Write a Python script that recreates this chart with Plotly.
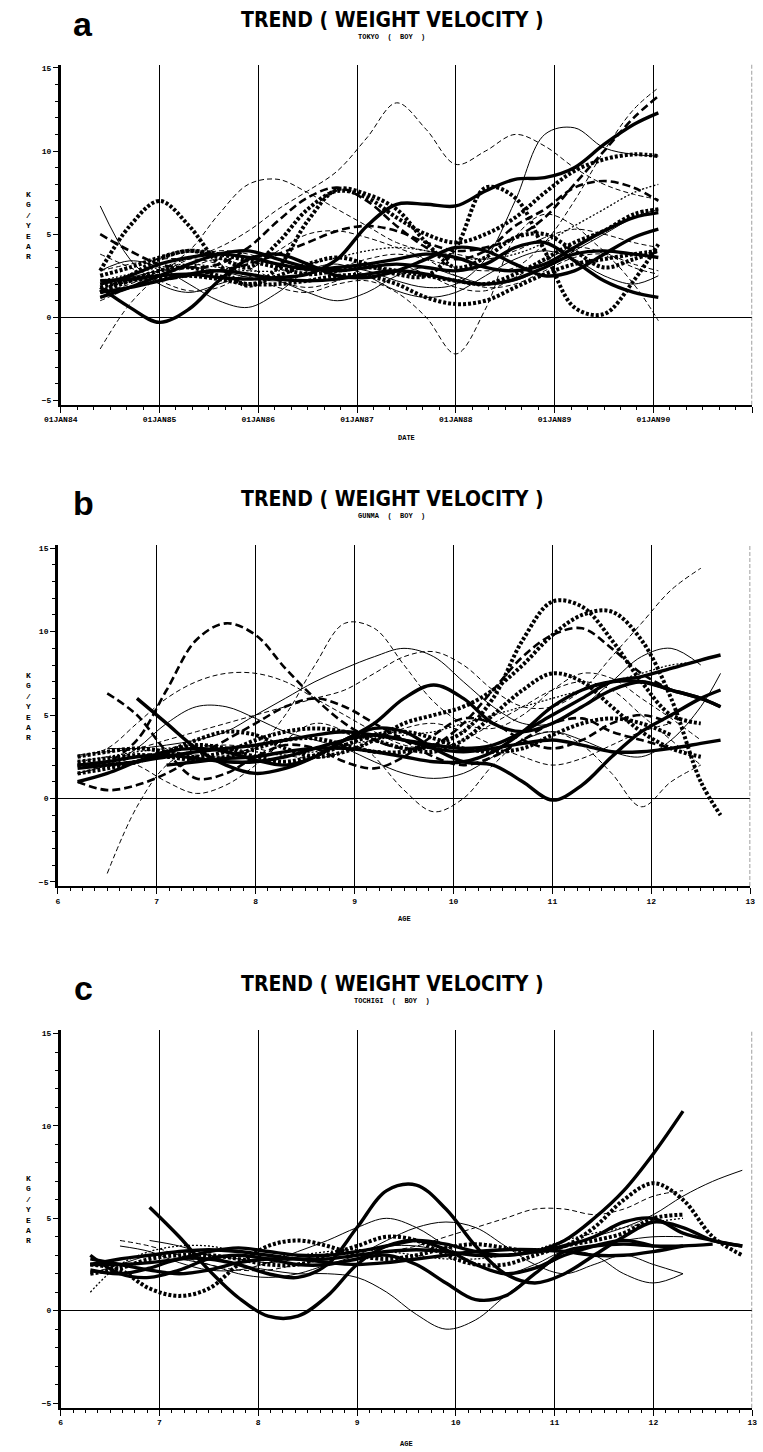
import plotly.graph_objects as go

# ---------------- DATA ----------------
# Panel a : TOKYO (BOY), x = calendar date (decimal year)
TOKYO_T = [1984.4, 1984.7, 1985.0, 1985.3, 1985.6, 1985.9, 1986.2, 1986.5, 1986.8, 1987.1,
           1987.4, 1987.7, 1988.0, 1988.3, 1988.6, 1988.9, 1989.2, 1989.5, 1989.8, 1990.05]
TOKYO_01 = [2.8, 3.2, 3.5, 3.6, 4.2, 5.2, 6.5, 7.6, 8.8, 10.8, 12.9, 11.3, 9.2, 10.0, 11.0, 10.3, 9.0, 8.0, 7.4, 7.1]
TOKYO_02 = [1.5, 2.0, 2.8, 4.0, 6.2, 8.0, 8.3, 7.5, 6.5, 5.5, 4.5, 4.0, 3.8, 3.5, 4.0, 4.8, 5.3, 5.0, 4.5, 4.2]
TOKYO_03 = [2.8, 5.5, 7.0, 5.5, 3.2, 1.9, 3.0, 5.8, 7.7, 7.4, 6.5, 4.5, 3.0, 3.6, 4.8, 5.0, 4.0, 3.0, 3.5, 4.0]
TOKYO_04 = [1.5, 2.2, 2.8, 3.0, 2.5, 2.0, 2.5, 3.2, 3.6, 3.2, 2.6, 2.5, 4.2, 7.8, 7.2, 4.0, 0.6, 0.2, 2.2, 4.4]
TOKYO_05 = [2.2, 2.3, 2.5, 2.6, 2.4, 2.3, 2.4, 2.6, 3.5, 5.5, 6.8, 6.8, 6.7, 7.6, 8.3, 8.4, 9.0, 10.4, 11.6, 12.3]
TOKYO_06 = [1.2, 1.8, 2.5, 3.2, 3.8, 4.0, 3.5, 3.0, 2.8, 3.0, 3.2, 3.0, 2.8, 3.2, 4.2, 4.5, 3.4, 2.2, 1.5, 1.2]
TOKYO_07 = [1.8, 0.6, -0.3, 0.5, 2.2, 3.5, 3.8, 3.2, 2.5, 2.4, 2.8, 3.5, 4.2, 4.0, 3.2, 2.5, 2.8, 3.8, 4.8, 5.3]
TOKYO_08 = [2.0, 2.4, 2.8, 3.0, 2.8, 2.4, 2.2, 2.6, 3.0, 2.8, 2.2, 1.8, 2.0, 3.5, 7.0, 11.0, 11.4, 10.2, 9.8, 9.7]
TOKYO_09 = [1.0, 1.8, 2.8, 3.5, 3.2, 2.5, 1.8, 1.5, 2.0, 2.2, 1.5, 0.0, -2.2, 0.5, 4.8, 6.2, 5.5, 4.0, 3.0, 2.6]
TOKYO_10 = [6.7, 3.5, 2.0, 1.5, 2.0, 2.5, 2.2, 1.5, 1.0, 1.5, 2.5, 3.0, 2.5, 2.0, 2.2, 3.0, 4.0, 5.0, 6.0, 6.5]
TOKYO_11 = [-1.9, 0.8, 2.5, 3.5, 4.0, 3.8, 3.2, 2.8, 3.0, 3.5, 3.8, 3.5, 3.0, 2.8, 3.0, 4.5, 7.0, 10.0, 12.5, 13.8]
TOKYO_12 = [1.5, 2.5, 3.5, 4.0, 3.6, 3.0, 4.5, 6.5, 7.6, 7.2, 6.0, 5.0, 4.5, 5.0, 6.0, 7.5, 8.8, 9.5, 9.8, 9.7]
TOKYO_13 = [5.0, 4.0, 3.2, 3.0, 3.2, 4.2, 5.8, 7.2, 7.8, 7.0, 5.5, 4.2, 3.5, 4.0, 5.5, 6.5, 7.8, 8.2, 7.8, 7.0]
TOKYO_14 = [2.0, 2.4, 2.6, 3.0, 3.5, 3.0, 2.2, 1.8, 2.2, 3.0, 3.2, 2.6, 1.8, 1.6, 2.4, 3.4, 4.2, 3.8, 2.0, -0.2]
TOKYO_15 = [2.5, 3.0, 3.6, 4.0, 3.8, 3.4, 3.0, 2.6, 2.8, 3.0, 2.8, 2.5, 2.2, 2.0, 2.6, 3.5, 4.5, 5.2, 6.2, 6.5]
TOKYO_16 = [2.0, 2.5, 3.2, 3.6, 3.8, 3.6, 3.2, 2.9, 3.0, 3.2, 3.5, 3.8, 3.6, 3.0, 2.8, 3.2, 4.2, 5.2, 6.0, 6.3]
TOKYO_17 = [2.8, 3.4, 3.0, 2.0, 1.0, 0.6, 1.5, 2.8, 3.2, 2.5, 1.6, 1.2, 1.5, 2.5, 3.5, 4.0, 3.5, 2.5, 2.0, 2.5]
TOKYO_18 = [3.8, 3.0, 2.2, 1.6, 1.8, 2.8, 4.0, 5.0, 5.2, 4.8, 4.2, 3.5, 2.5, 1.8, 2.0, 2.8, 3.6, 3.8, 3.2, 2.8]
TOKYO_19 = [1.2, 1.8, 2.2, 2.5, 2.8, 3.2, 3.8, 4.5, 5.2, 5.5, 5.2, 4.5, 4.0, 4.2, 4.8, 6.0, 8.0, 10.0, 12.0, 13.3]
TOKYO_20 = [1.8, 2.2, 2.4, 2.5, 2.3, 2.0, 2.0, 2.2, 2.5, 2.5, 2.0, 1.2, 0.8, 1.0, 1.8, 2.6, 3.2, 3.5, 3.8, 4.0]
TOKYO_21 = [2.2, 2.6, 3.0, 3.2, 3.0, 2.8, 2.8, 3.2, 3.6, 4.0, 4.2, 4.0, 3.6, 3.5, 3.8, 4.5, 5.5, 6.5, 7.5, 8.0]
TOKYO_22 = [1.5, 1.8, 2.2, 2.6, 2.8, 2.6, 2.3, 2.2, 2.3, 2.6, 2.8, 2.6, 2.2, 2.0, 2.3, 3.0, 3.8, 4.0, 3.8, 3.6]

# Panel b : GUNMA (BOY), x = age
GUNMA_AGE = [6.2, 6.5, 6.8, 7.1, 7.4, 7.7, 8.0, 8.3, 8.6, 8.9, 9.2, 9.5,
             9.8, 10.1, 10.4, 10.7, 11.0, 11.3, 11.6, 11.9, 12.2, 12.5, 12.7]
GUNMA_01 = [None, 6.3, 5.0, 2.8, 1.2, 1.5, 2.5, 3.2, 3.0, 2.2, 1.8, 2.5, 3.8, 4.8, 4.5, 3.5, 3.0, 3.5, 4.5, 5.0, 4.5, None, None]
GUNMA_02 = [2.0, 2.2, 3.5, 6.5, 9.5, 10.5, 9.8, 7.8, 6.0, 4.5, 3.5, 3.0, 3.2, 4.5, 6.5, 8.5, 9.8, 10.2, 9.0, 7.5, 6.5, None, None]
GUNMA_03 = [None, -4.5, -0.5, 2.0, 3.0, 3.2, 3.0, 2.6, 2.4, 2.8, 3.5, 4.2, 4.5, 4.0, 3.2, 2.5, 2.0, 2.4, 3.2, 4.0, 4.5, None, None]
GUNMA_04 = [1.5, 2.0, 2.5, 2.8, 2.6, 2.5, 3.0, 5.0, 8.0, 10.5, 10.2, 8.0, 5.8, 4.5, 4.2, 5.0, 6.5, 7.5, 7.2, 6.0, 4.8, 3.5, None]
GUNMA_05 = [2.2, 2.4, 2.6, 2.5, 2.3, 2.5, 3.0, 3.5, 3.6, 3.2, 2.8, 2.8, 3.2, 4.0, 6.0, 9.5, 11.8, 11.5, 9.5, 7.0, 5.0, 4.5, None]
GUNMA_06 = [1.5, 1.8, 2.2, 2.8, 3.5, 4.0, 3.8, 3.0, 2.5, 2.8, 3.5, 4.5, 5.0, 5.5, 6.5, 8.0, 9.8, 11.0, 11.2, 9.5, 6.0, 1.0, -1.0]
GUNMA_07 = [2.6, 2.8, 3.0, 3.5, 4.0, 4.5, 5.0, 5.5, 6.0, 6.5, 7.5, 8.5, 8.8, 8.0, 6.5, 5.5, 5.5, 6.5, 8.5, 10.5, 12.5, 13.8, None]
GUNMA_08 = [None, None, 6.0, 4.5, 3.0, 2.0, 1.5, 1.8, 2.5, 3.5, 4.2, 4.0, 3.0, 2.2, 2.0, 1.0, -0.1, 0.8, 2.5, 4.0, 5.0, 6.0, 6.5]
GUNMA_09 = [1.8, 2.0, 2.2, 2.5, 2.8, 3.0, 3.2, 3.5, 3.8, 4.0, 3.8, 3.5, 3.2, 3.0, 3.2, 4.0, 5.0, 6.0, 7.0, 7.3, 7.8, 8.3, 8.6]
GUNMA_10 = [2.0, 2.2, 2.5, 2.6, 2.4, 2.2, 2.2, 2.5, 3.0, 3.5, 3.8, 3.5, 3.0, 2.8, 3.0, 3.3, 3.5, 3.2, 2.8, 2.8, 3.0, 3.3, 3.5]
GUNMA_11 = [1.0, 1.5, 2.2, 2.8, 3.0, 2.8, 2.3, 2.0, 2.5, 3.5, 4.5, 6.0, 6.8, 6.0, 4.5, 4.0, 4.5, 5.5, 6.5, 7.0, 6.5, 6.0, 5.5]
GUNMA_12 = [1.5, 2.0, 3.0, 4.5, 5.5, 5.5, 4.8, 4.0, 3.5, 3.0, 2.2, 1.5, 1.2, 1.5, 2.5, 3.5, 4.0, 3.5, 2.8, 2.5, 3.5, 5.5, 7.5]
GUNMA_13 = [2.5, 3.0, 4.5, 6.0, 7.0, 7.5, 7.5, 7.0, 6.0, 5.0, 4.0, 3.2, 3.0, 3.5, 4.5, 5.5, 6.5, 7.0, 6.5, 5.0, 3.5, 2.0, None]
GUNMA_14 = [2.0, 2.0, 2.2, 2.8, 3.2, 3.0, 2.5, 2.2, 2.6, 3.2, 3.8, 4.0, 3.6, 3.0, 2.8, 3.0, 3.8, 4.5, 4.8, 4.5, 3.8, None, None]
GUNMA_15 = [1.0, 0.5, 0.8, 1.5, 2.5, 3.5, 4.5, 5.5, 6.0, 5.5, 4.5, 3.5, 2.5, 2.0, 2.5, 3.5, 4.5, 4.8, 4.0, 3.5, 3.0, None, None]
GUNMA_16 = [None, 2.5, 2.0, 1.0, 0.3, 0.8, 2.0, 3.5, 4.5, 4.0, 2.5, 0.5, -0.8, 0.0, 2.0, 3.5, 4.0, 3.2, 1.5, -0.5, 1.0, 2.0, None]
GUNMA_17 = [2.5, 2.8, 3.0, 2.8, 2.5, 2.8, 3.5, 4.0, 4.2, 4.0, 3.5, 3.0, 2.8, 3.5, 5.0, 6.5, 7.5, 7.0, 5.5, 4.0, 3.0, 2.5, None]
GUNMA_18 = [None, 3.0, 3.0, 3.2, 3.5, 4.0, 5.0, 6.0, 7.0, 7.8, 8.5, 9.0, 8.5, 7.0, 5.5, 4.5, 4.5, 5.5, 7.0, 8.5, 9.0, 8.0, None]
GUNMA_19 = [2.2, 2.5, 2.8, 3.0, 3.2, 3.0, 2.8, 2.6, 2.8, 3.2, 3.5, 3.8, 4.0, 4.5, 5.0, 5.5, 6.0, 6.5, 7.0, 7.5, 8.0, 8.2, None]
GUNMA_20 = [None, None, None, 2.0, 2.2, 2.4, 2.5, 2.8, 3.0, 3.0, 2.8, 2.5, 2.2, 2.2, 2.8, 4.0, 5.5, 6.5, 7.0, 7.0, 6.5, 6.0, 5.5]

# Panel c : TOCHIGI (BOY), x = age
TOCHIGI_AGE = [6.3, 6.6, 6.9, 7.2, 7.5, 7.8, 8.1, 8.4, 8.7, 9.0, 9.3, 9.6,
               9.9, 10.2, 10.5, 10.8, 11.1, 11.4, 11.7, 12.0, 12.3, 12.6, 12.9]
TOCHIGI_01 = [2.5, 2.8, 3.0, 3.2, 3.3, 3.2, 3.0, 2.8, 2.8, 3.0, 3.2, 3.3, 3.2, 3.0, 3.0, 3.2, 3.8, 5.0, 6.5, 8.5, 10.8, None, None]
TOCHIGI_02 = [None, None, 5.6, 4.0, 2.2, 0.7, -0.3, -0.3, 0.8, 2.5, 3.5, 3.8, 3.3, 2.5, 2.0, 2.3, 3.0, 3.5, 3.8, 3.5, None, None, None]
TOCHIGI_03 = [2.2, 2.0, 2.3, 2.8, 2.8, 2.5, 2.0, 1.8, 2.5, 4.5, 6.5, 6.8, 5.5, 3.5, 2.0, 1.5, 2.0, 3.0, 4.0, 4.8, 4.5, 3.8, 3.5]
TOCHIGI_04 = [2.0, 2.5, 3.0, 3.2, 3.0, 2.8, 2.6, 2.8, 3.0, 3.2, 3.5, 3.5, 3.2, 3.0, 3.0, 3.2, 3.5, 4.0, 4.5, 5.2, 6.2, 7.0, 7.6]
TOCHIGI_05 = [2.5, 2.2, 1.2, 0.8, 1.2, 2.5, 3.5, 3.8, 3.5, 3.0, 2.8, 3.0, 3.4, 3.6, 3.4, 3.2, 3.5, 4.5, 6.0, 6.9, 6.0, 4.0, 3.0]
TOCHIGI_06 = [None, None, 3.8, 3.5, 3.0, 2.5, 2.2, 2.0, 2.0, 1.8, 1.0, -0.2, -1.0, -0.5, 0.8, 2.0, 3.0, 3.5, 3.8, 4.0, 4.0, None, None]
TOCHIGI_07 = [1.0, 2.5, 3.2, 3.5, 3.5, 3.2, 3.0, 3.0, 3.2, 3.3, 3.2, 3.0, 2.8, 2.8, 3.0, 3.3, 3.8, 4.2, 4.5, 4.8, 5.0, None, None]
TOCHIGI_08 = [3.0, 2.0, 1.8, 2.2, 2.8, 3.0, 2.8, 2.5, 2.5, 2.8, 3.0, 2.5, 1.5, 0.6, 0.8, 2.0, 3.2, 3.5, 3.6, 3.5, 3.5, 3.6, None]
TOCHIGI_09 = [2.5, 2.5, 2.6, 2.8, 3.2, 3.4, 3.2, 3.0, 3.0, 3.2, 3.5, 3.8, 3.6, 3.2, 3.0, 3.2, 3.5, 4.0, 4.8, 5.0, 4.2, 3.8, 3.5]
TOCHIGI_10 = [None, 3.5, 3.2, 2.6, 2.2, 2.2, 2.6, 3.2, 3.8, 4.5, 5.0, 4.5, 3.5, 2.5, 2.0, 2.5, 3.2, 3.0, 2.0, 1.5, 2.0, None, None]
TOCHIGI_11 = [None, 3.8, 3.5, 3.0, 2.5, 2.2, 2.2, 2.5, 2.8, 3.0, 3.2, 3.5, 4.0, 4.5, 5.0, 5.5, 5.5, 5.2, 5.5, 6.2, 6.5, None, None]
TOCHIGI_12 = [2.0, 2.3, 2.8, 3.0, 3.0, 2.8, 2.5, 2.5, 3.0, 3.5, 4.0, 3.8, 3.0, 2.5, 2.5, 3.0, 3.5, 3.8, 4.2, 5.0, 5.2, None, None]
TOCHIGI_13 = [None, None, None, 2.8, 2.5, 2.0, 1.8, 2.0, 2.5, 3.0, 3.8, 4.5, 4.8, 4.5, 3.5, 2.5, 2.0, 2.5, 3.0, 2.5, 2.0, None, None]
TOCHIGI_14 = [2.8, 2.5, 2.2, 2.0, 2.2, 2.6, 2.8, 2.8, 2.6, 2.5, 2.6, 2.8, 3.0, 3.2, 3.3, 3.3, 3.2, 3.0, 3.0, 3.2, 3.5, None, None]

DATE_TICKS = [1984, 1985, 1986, 1987, 1988, 1989, 1990, 1991]
DATE_LABELS = ["01JAN84", "01JAN85", "01JAN86", "01JAN87", "01JAN88", "01JAN89", "01JAN90", "01JAN91"]
AGE_TICKS = [6, 7, 8, 9, 10, 11, 12, 13]
AGE_LABELS = ["6", "7", "8", "9", "10", "11", "12", "13"]
Y_TICKS = [-5, 0, 5, 10, 15]

# ---------------- STYLES ----------------
STYLE = {
    "thick": dict(width=3.4, dash="solid"),
    "thin": dict(width=1.0, dash="solid"),
    "dash": dict(width=1.0, dash="5px,3px"),
    "dashthick": dict(width=2.6, dash="8px,4px"),
    "dot": dict(width=4.0, dash="3px,2px"),
    "finedot": dict(width=1.3, dash="2px,2px"),
}
TOKYO_STYLES = ["dash", "dash", "dot", "dot", "thick", "thick", "thick", "thin", "dash", "thin", "dash",
                "dot", "dashthick", "dash", "dot", "thick", "thin", "dash", "dashthick", "dot", "finedot", "thick"]
GUNMA_STYLES = ["dashthick", "dashthick", "dash", "dash", "dot", "dot", "dash", "thick", "thick", "thick",
                "thick", "thin", "dash", "dot", "dashthick", "dash", "dot", "thin", "finedot", "thick"]
TOCHIGI_STYLES = ["thick", "thick", "thick", "thin", "dot", "thin", "finedot", "thick", "thick", "thin",
                  "dash", "dot", "thin", "thick"]

TOKYO = [TOKYO_01, TOKYO_02, TOKYO_03, TOKYO_04, TOKYO_05, TOKYO_06, TOKYO_07, TOKYO_08, TOKYO_09, TOKYO_10, TOKYO_11,
         TOKYO_12, TOKYO_13, TOKYO_14, TOKYO_15, TOKYO_16, TOKYO_17, TOKYO_18, TOKYO_19, TOKYO_20, TOKYO_21, TOKYO_22]
GUNMA = [GUNMA_01, GUNMA_02, GUNMA_03, GUNMA_04, GUNMA_05, GUNMA_06, GUNMA_07, GUNMA_08, GUNMA_09, GUNMA_10,
         GUNMA_11, GUNMA_12, GUNMA_13, GUNMA_14, GUNMA_15, GUNMA_16, GUNMA_17, GUNMA_18, GUNMA_19, GUNMA_20]
TOCHIGI = [TOCHIGI_01, TOCHIGI_02, TOCHIGI_03, TOCHIGI_04, TOCHIGI_05, TOCHIGI_06, TOCHIGI_07, TOCHIGI_08,
           TOCHIGI_09, TOCHIGI_10, TOCHIGI_11, TOCHIGI_12, TOCHIGI_13, TOCHIGI_14]

# ---------------- LAYOUT (pixels) ----------------
W, H = 763, 1452
PANELS = [
    dict(letter="a", sub="TOKYO  (  BOY  )", xt="DATE", x=TOKYO_T, series=TOKYO, styles=TOKYO_STYLES,
         px0=45, px1=757, xr=[1984, 1991], ticks=DATE_TICKS, labels=DATE_LABELS, minor=1 / 6,
         top=63.7, bot=404.2, title_y=19, xt_off=33),
    dict(letter="b", sub="GUNMA  (  BOY  )", xt="AGE", x=GUNMA_AGE, series=GUNMA, styles=GUNMA_STYLES,
         px0=42, px1=755, xr=[6, 13], ticks=AGE_TICKS, labels=AGE_LABELS, minor=0.125,
         top=544.7, bot=886.2, title_y=499, xt_off=33),
    dict(letter="c", sub="TOCHIGI  (  BOY  )", xt="AGE", x=TOCHIGI_AGE, series=TOCHIGI, styles=TOCHIGI_STYLES,
         px0=45, px1=757, xr=[6, 13], ticks=AGE_TICKS, labels=AGE_LABELS, minor=0.125,
         top=1030.3, bot=1408.6, title_y=984, xt_off=36),
]
YR = [-5.25, 15.2]


def px_y(p):
    return 1 - p / H


MONO = "Liberation Mono"
TITLE_FONT = "DejaVu Sans Condensed, Liberation Sans Narrow, Arial Narrow, sans-serif"
fig = go.Figure()
layout = dict(width=W, height=H, margin=dict(l=0, r=0, t=0, b=0),
              paper_bgcolor="white", plot_bgcolor="white", showlegend=False)
annotations = []
shapes = []

for i, P in enumerate(PANELS):
    n = "" if i == 0 else str(i + 1)
    xa, ya = "x" + n, "y" + n
    for vals, st in zip(P["series"], P["styles"]):
        s = STYLE[st]
        fig.add_trace(go.Scatter(x=P["x"], y=vals, mode="lines", xaxis=xa, yaxis=ya,
                                 line=dict(color="black", width=s["width"], dash=s["dash"],
                                           shape="spline", smoothing=1.0),
                                 hoverinfo="skip"))
    layout["xaxis" + n] = dict(
        domain=[P["px0"] / W, P["px1"] / W], range=P["xr"], anchor=ya,
        tickmode="array", tickvals=P["ticks"], ticktext=P["labels"],
        showline=True, linecolor="black", linewidth=2,
        ticks="outside", ticklen=6, tickcolor="black", tickwidth=1,
        minor=dict(dtick=P["minor"], ticks="outside", ticklen=3, tickcolor="black", showgrid=False),
        showgrid=True, gridcolor="black", gridwidth=1, zeroline=False,
        tickfont=dict(family=MONO, size=8, color="black", weight="bold"),
    )
    layout["yaxis" + n] = dict(
        domain=[px_y(P["bot"]), px_y(P["top"])], range=YR, anchor=xa,
        tickmode="array", tickvals=Y_TICKS,
        showline=True, linecolor="black", linewidth=2.5,
        ticks="outside", ticklen=5, tickcolor="black", tickwidth=1,
        minor=dict(dtick=1, ticks="outside", ticklen=3, tickcolor="black", showgrid=False),
        showgrid=False, zeroline=True, zerolinecolor="black", zerolinewidth=1,
        tickfont=dict(family=MONO, size=8, color="black", weight="bold"),
    )
    # right-hand boundary line
    shapes.append(dict(type="line", xref=xa, yref=ya + " domain", x0=P["xr"][1], x1=P["xr"][1],
                       y0=0, y1=1, line=dict(color="#555", width=1.2, dash="4px,2px")))
    ty = P["title_y"]
    annotations += [
        dict(text=P["letter"], xref="paper", yref="paper", x=68 / W, y=px_y(ty + 4),
             showarrow=False, font=dict(family="Liberation Sans", size=34, color="black", weight="bold"),
             xanchor="center", yanchor="middle"),
        dict(text="TREND ( WEIGHT VELOCITY )", xref="paper", yref="paper", x=387 / W, y=px_y(ty),
             showarrow=False, font=dict(family=TITLE_FONT, size=21, color="black", weight="bold"),
             xanchor="center", yanchor="middle", borderpad=0),
        dict(text=P["sub"], xref="paper", yref="paper", x=386 / W, y=px_y(ty + 17),
             showarrow=False, font=dict(family=MONO, size=7, color="black", weight="bold"),
             xanchor="center", yanchor="middle", borderpad=0),
        dict(text="K<br>G<br>/<br>Y<br>E<br>A<br>R", xref="paper", yref=ya, x=12 / W, y=5.5,
             showarrow=False, font=dict(family=MONO, size=8, color="black", weight="bold"),
             xanchor="center", yanchor="middle"),
        dict(text=P["xt"], xref="paper", yref="paper", x=(P["px0"] + P["px1"]) / 2 / W,
             y=px_y(P["bot"] + P["xt_off"]),
             showarrow=False, font=dict(family=MONO, size=7, color="black", weight="bold"),
             xanchor="center", yanchor="middle"),
    ]

layout["annotations"] = annotations
layout["shapes"] = shapes
fig.update_layout(**layout)
fig.write_html("out.html")
